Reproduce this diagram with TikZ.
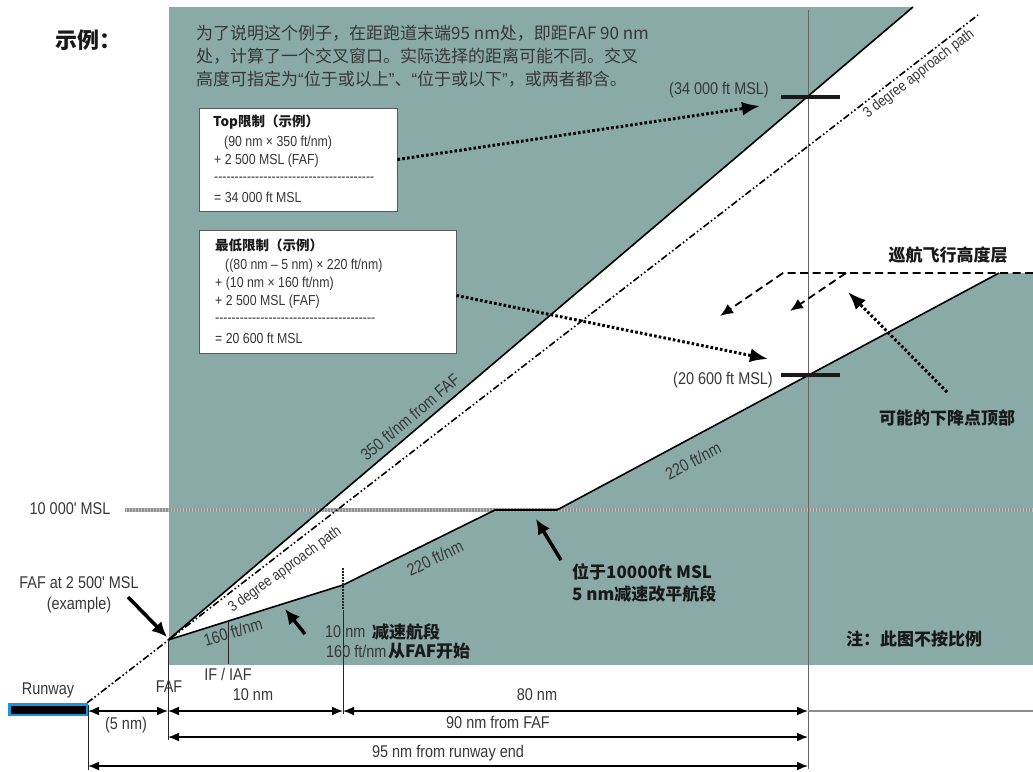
\documentclass[tikz,border=0pt]{standalone}
\usepackage{fontspec}
\setmainfont{Liberation Sans}
\newfontfamily\nar[FakeStretch=0.85]{Liberation Sans}
\newfontfamily\cjk{Noto Sans CJK SC}
\newfontfamily\qfont{Liberation Sans}
\usetikzlibrary{arrows.meta}
\definecolor{teal1}{RGB}{137,170,167}
\definecolor{txt}{RGB}{55,55,55}
\definecolor{ink}{RGB}{25,25,25}
\definecolor{rwblue}{RGB}{20,150,220}
\newcommand\dashrow{-{}-{}-{}-{}-{}-{}-{}-{}-{}-{}-{}-{}-{}-{}-{}-{}-{}-{}-{}-{}-{}-{}-{}-{}-{}-{}-{}-{}-{}-{}-{}-{}-{}-{}-{}-{}-{}-{}-{}}
\newcommand\myopenq{{\qfont “}}
\newcommand\myclosq{{\qfont ”}}
\tikzset{
  lbl/.style={font=\nar\fontsize{17}{20}\selectfont, text=txt, inner sep=0pt},
  smlbl/.style={font=\nar\fontsize{15}{18}\selectfont, text=txt, inner sep=0pt},
  boxtxt/.style={font=\nar\fontsize{14.5}{17}\selectfont, text=txt, inner sep=0pt, anchor=west},
  boxtitle/.style={font=\cjk\bfseries\fontsize{13.5}{16}\selectfont, text=ink, inner sep=0pt, anchor=west},
  cjkb/.style={font=\cjk\bfseries\fontsize{17}{20}\selectfont, text=ink, inner sep=0pt},
  para/.style={font=\cjk\fontsize{17}{22}\selectfont, text=txt, inner sep=0pt, anchor=west},
  infobox/.style={draw=black!65, line width=1pt, fill=white, inner sep=0pt},
  bound/.style={line width=1.6pt, black},
  approach/.style={line width=1.6pt, black, dash pattern=on 7pt off 2.5pt on 1.6pt off 2.5pt on 1.6pt off 2.5pt},
  dotarrow/.style={line width=3pt, dash pattern=on 2.6pt off 2.2pt, -{Latex[length=18pt,width=14pt]}},
  dasharrow/.style={line width=1.8pt, dash pattern=on 8pt off 4.5pt, -{Latex[length=13pt,width=11pt]}},
  bigarrow/.style={line width=3.5pt, -{Latex[length=15pt,width=14pt]}},
  dimline/.style={line width=1.6pt, {Latex[length=11pt,width=9pt]}-{Latex[length=11pt,width=9pt]}},
  extline/.style={line width=0.8pt, black!85},
  xbar/.style={line width=3.5pt, black!90}
}
\begin{document}
\begin{tikzpicture}[x=1pt,y=-1pt]
\useasboundingbox (0,0) rectangle (1033,771);
\fill[white] (0,0) rectangle (1033,771);
\fill[teal1] (169,7) rectangle (1033,665);
% key points
\coordinate (faf) at (168,640);
\coordinate (top) at (913,7);
\coordinate (trc) at (1033,7);
\coordinate (cre) at (1033,273);
\coordinate (toc) at (999,273);
\coordinate (lvlE) at (557,510);
\coordinate (lvlS) at (495,510);
\coordinate (dec) at (343,585);
\fill[white] (faf) -- (top) -- (trc) -- (cre) -- (toc) -- (lvlE) -- (lvlS) -- (dec) -- cycle;
% 10000 MSL line
\coordinate (mslL) at (125,510);
\coordinate (mslR) at (1033,510);
\draw[line width=3.2pt, gray!50] (mslL) -- (mslR);
\draw[line width=3.2pt, gray!85, dash pattern=on 0.6pt off 0.9pt] (mslL) -- (mslR);
% vertical at 90 nm
\coordinate (xT) at (808,10);
\coordinate (xB) at (808,769);
\coordinate (gL) at (808,711);
\coordinate (gR) at (1033,711);
\draw[line width=0.9pt, black!60] (xT) -- (xB);
\draw[line width=1.2pt, black!45] (gL) -- (gR);
% boundaries
\draw[bound] (faf) -- (top);
\draw[bound, line join=round] (faf) -- (dec) -- (lvlS) -- (lvlE) -- (toc);
% approach path
\coordinate (rwe) at (87,703);
\coordinate (apT) at (978,15);
\draw[approach] (rwe) -- (apT);
% crossing marks
\coordinate (m1L) at (781,97); \coordinate (m1R) at (840,97);
\coordinate (m2L) at (781,375); \coordinate (m2R) at (840,375);
\draw[xbar] (m1L) -- (m1R);
\draw[xbar] (m2L) -- (m2R);
% dashed descent arrows
\coordinate (c1) at (783,273); \coordinate (c1t) at (720,316);
\coordinate (c2) at (846,273); \coordinate (c2t) at (790,311);
\draw[dasharrow] (cre) -- (c1) -- (c1t);
\draw[dasharrow] (c2) -- (c2t);
% info boxes
\node[infobox, minimum width=198pt, minimum height=103pt] (box1) at (298,159.5) {};
\node[infobox, minimum width=257pt, minimum height=123pt] (box2) at (327.5,291.5) {};
\node[boxtitle] (b1t) at (213,122) {Top限制（示例）};
\node[boxtxt] (b1a) at (224,143) {(90 nm × 350 ft/nm)};
\node[boxtxt] (b1b) at (214,161) {+ 2 500 MSL (FAF)};
\node[boxtxt] (b1c) at (214,179) {\dashrow};
\node[boxtxt] (b1d) at (214,197) {= 34 000 ft MSL};
\node[boxtitle] (b2t) at (215,245) {最低限制（示例）};
\node[boxtxt] (b2a) at (225,266) {((80 nm – 5 nm) × 220 ft/nm)};
\node[boxtxt] (b2b) at (215,284) {+ (10 nm × 160 ft/nm)};
\node[boxtxt] (b2c) at (215,302) {+ 2 500 MSL (FAF)};
\node[boxtxt] (b2d) at (215,320) {\dashrow};
\node[boxtxt] (b2e) at (215,338) {= 20 600 ft MSL};
% dotted arrows
\coordinate (d1t) at (760,106);
\coordinate (d2t) at (768,359);
\coordinate (d3s) at (947,392); \coordinate (d3t) at (848,292);
\draw[dotarrow] (box1.east) -- (d1t);
\draw[dotarrow] ([yshift=-4pt]box2.east) -- (d2t);
\draw[dotarrow] (d3s) -- (d3t);
% big arrows
\coordinate (a1s) at (128,597); \coordinate (a1t) at (167,637);
\coordinate (a2s) at (305,634); \coordinate (a2t) at (285,609);
\coordinate (a3s) at (561,560); \coordinate (a3t) at (536,519);
\draw[bigarrow] (a1s) -- (a1t);
\draw[bigarrow] (a2s) -- (a2t);
\draw[bigarrow] (a3s) -- (a3t);
% extension lines
\coordinate (e1a) at (88,705); \coordinate (e1b) at (88,770);
\coordinate (e2b) at (168,740);
\coordinate (e3a) at (343,568); \coordinate (e3b) at (343,610); \coordinate (e3c) at (343,714);
\coordinate (e4a) at (228,621); \coordinate (e4b) at (228,664);
\draw[extline] (e1a) -- (e1b);
\draw[extline] (faf) -- (e2b);
\draw[extline, line width=1.6pt, dash pattern=on 1.5pt off 1.5pt] (e3a) -- (e3b);
\draw[extline] (e3b) -- (e3c);
\draw[extline] (e4a) -- (e4b);
% dimension lines
\coordinate (r1) at (88,711); \coordinate (f1) at (168,711); \coordinate (t1) at (343,711); \coordinate (n1) at (808,711);
\coordinate (f2) at (168,737); \coordinate (n2) at (808,737);
\coordinate (r3) at (88,766); \coordinate (n3) at (808,766);
\draw[dimline] (r1) -- (f1);
\draw[dimline] (f1) -- (t1);
\draw[dimline] (t1) -- (n1);
\draw[dimline] (f2) -- (n2);
\draw[dimline] (r3) -- (n3);
% runway
\node[draw=rwblue, line width=2.5pt, fill=black, minimum width=77.5pt, minimum height=10.5pt, inner sep=0pt] (rw) at (48,709.5) {};
% title and paragraph
\node[font=\cjk\bfseries\fontsize{22}{26}\selectfont, text=ink, anchor=west, inner sep=0pt] (title) at (55,40) {示例：};
\node[para] (p1) at (196,33) {为了说明这个例子，在距跑道末端95 nm处，即距FAF 90 nm};
\node[para] (p2) at (196,56) {处，计算了一个交叉窗口。实际选择的距离可能不同。交叉};
\node[para] (p3) at (196,79) {高度可指定为\myopenq 位于或以上\myclosq 、\myopenq 位于或以下\myclosq ，或两者都含。};
% labels
\node[lbl] (l1) at (70,509) {10 000' MSL};
\node[lbl] (l2) at (79,583) {FAF at 2 500' MSL};
\node[lbl] (l3) at (79,605) {(example)};
\node[lbl] (l4) at (48,690) {Runway};
\node[lbl] (l5) at (169,687) {FAF};
\node[lbl] (l6) at (228,674) {IF / IAF};
\node[lbl] (l7) at (126,725) {(5 nm)};
\node[lbl] (l8) at (253,695) {10 nm};
\node[lbl] (l9) at (537,695) {80 nm};
\node[lbl] (l10) at (498,722) {90 nm from FAF};
\node[lbl] (l11) at (448,753) {95 nm from runway end};
\node[lbl, anchor=east] (l12) at (769,90) {(34 000 ft MSL)};
\node[lbl, anchor=east] (l13) at (773,380) {(20 600 ft MSL)};
\node[lbl, rotate=40.4] (l14) at (410,417) {350 ft/nm from FAF};
\node[lbl, rotate=28] (l15) at (693,461) {220 ft/nm};
\node[lbl, rotate=26] (l16) at (435,558) {220 ft/nm};
\node[lbl, rotate=17] (l17) at (233,632) {160 ft/nm};
\node[smlbl, rotate=37.7] (l18) at (919,74) {3 degree approach path};
\node[smlbl, rotate=36] (l19) at (285,570) {3 degree approach path};
\node[lbl, anchor=west] (l20) at (325,632) {10 nm};
\node[lbl, anchor=west] (l21) at (326,651) {160 ft/nm};
\node[cjkb, anchor=west] (c1l) at (372,632) {减速航段};
\node[cjkb, anchor=west] (c2l) at (388,651) {从FAF开始};
\node[cjkb, anchor=west] (c3l) at (572,572) {位于10000ft MSL};
\node[cjkb, anchor=west] (c4l) at (572,594) {5 nm减速改平航段};
\node[cjkb] (c5l) at (947,418) {可能的下降点顶部};
\node[cjkb] (c6l) at (948,255) {巡航飞行高度层};
\node[cjkb] (c7l) at (914,639) {注：此图不按比例};
\end{tikzpicture}
\end{document}
